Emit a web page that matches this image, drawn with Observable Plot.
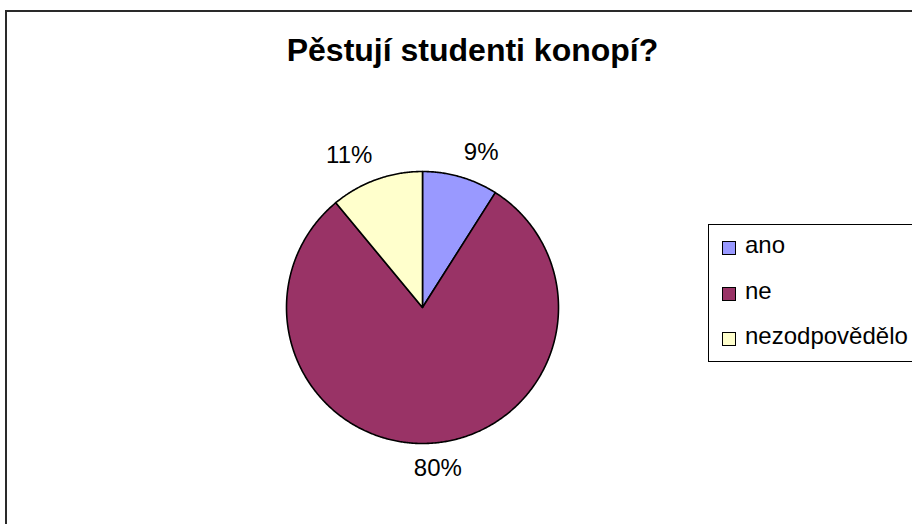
<!DOCTYPE html>
<html><head><meta charset="utf-8">
<script src="https://cdn.jsdelivr.net/npm/d3@7"></script>
<script src="https://cdn.jsdelivr.net/npm/@observablehq/plot@0.6"></script>
<style>
body{margin:0;background:#fff;font-family:"Liberation Sans",Arial,sans-serif}
#wrap{position:relative;width:912px;height:524px;overflow:hidden;background:#fff}
#border{position:absolute;left:5px;top:10px;width:1000px;height:1000px;border:2px solid #2a2a2a;box-sizing:border-box}
#chart{position:absolute;left:0;top:0}
#legend{position:absolute;left:708px;top:224px;width:300px;height:138px;border:1px solid #000;box-sizing:border-box;background:#fff}
.sw{position:absolute;width:14px;height:14px;border:1px solid #000;box-sizing:border-box}
.lt{position:absolute;font-size:24px;line-height:24px;white-space:nowrap;color:#000}
</style></head><body>
<div id="wrap"><div id="border"></div><div id="chart"></div><div id="legend"></div></div>
<script>
const title = "Pěstují studenti konopí?";
const categories = ["ano", "ne", "nezodpovědělo"];
const values = [9, 80, 11];
const labels = ["9%", "80%", "11%"];
const colors = ["#9999FF", "#993366", "#FFFFCC"];

const W = 912, H = 524, CX = 422, CY = 307, R = 136;
const font = '24px "Liberation Sans", Arial, sans-serif';

const arcs = d3.pie().sort(null).startAngle(0).endAngle(2 * Math.PI)(values);

// slice polygons in unit-circle data space (y up)
const poly = [];
arcs.forEach((a, i) => {
  const key = categories[i];
  poly.push({key, x: 0, y: 0});
  const n = Math.max(2, Math.ceil((a.endAngle - a.startAngle) / (Math.PI / 360)));
  for (let k = 0; k <= n; k++) {
    const t = a.startAngle + (a.endAngle - a.startAngle) * k / n;
    poly.push({key, x: Math.sin(t), y: Math.cos(t)});
  }
  poly.push({key, x: 0, y: 0});
});

// label positions: anchor just outside the rim, text box pushed outward
const ctx = document.createElement("canvas").getContext("2d");
ctx.font = font;
const clamp = v => Math.max(-1, Math.min(1, v));
const labelData = arcs.map((a, i) => {
  const m = (a.startAngle + a.endAngle) / 2;
  const rr = (R + 12) / R;
  const w = ctx.measureText(labels[i]).width, h = 26;
  const ox = (w / 2) * clamp(4 * Math.sin(m)) / R;
  const oy = (h / 2) * clamp(4 * Math.cos(m)) / R;
  return {text: labels[i], x: rr * Math.sin(m) + ox, y: rr * Math.cos(m) + oy};
});

const chart = Plot.plot({
  width: W, height: H,
  margin: 0,
  style: {fontFamily: '"Liberation Sans", Arial, sans-serif', background: "transparent", overflow: "visible"},
  x: {domain: [-CX / R, (W - CX) / R], range: [0, W], axis: null},
  y: {domain: [-(H - CY) / R, CY / R], range: [H, 0], axis: null},
  color: {domain: categories, range: colors},
  marks: [
    Plot.line(poly, {x: "x", y: "y", z: "key", fill: "key", stroke: "#000", strokeWidth: 1.6, strokeLinejoin: "round"}),
    Plot.text(labelData, {x: "x", y: "y", text: "text", fontSize: 24, fill: "#000"}),
    Plot.text([title], {text: d => d, frameAnchor: "top", lineAnchor: "middle", dx: 16, dy: 50, fontSize: 32, fontWeight: "bold", fill: "#000"})
  ]
});
document.getElementById("chart").appendChild(chart);

// legend
const leg = document.getElementById("legend");
categories.forEach((c, i) => {
  const cy = 248 + 45.5 * i - 224 - 1;
  const sw = document.createElement("div");
  sw.className = "sw";
  sw.style.left = (722 - 709) + "px";
  sw.style.top = (cy - 7) + "px";
  sw.style.background = colors[i];
  leg.appendChild(sw);
  const t = document.createElement("div");
  t.className = "lt";
  t.style.left = (745 - 709) + "px";
  t.style.top = (cy - 15) + "px";
  t.textContent = c;
  leg.appendChild(t);
});
</script>
</body></html>
